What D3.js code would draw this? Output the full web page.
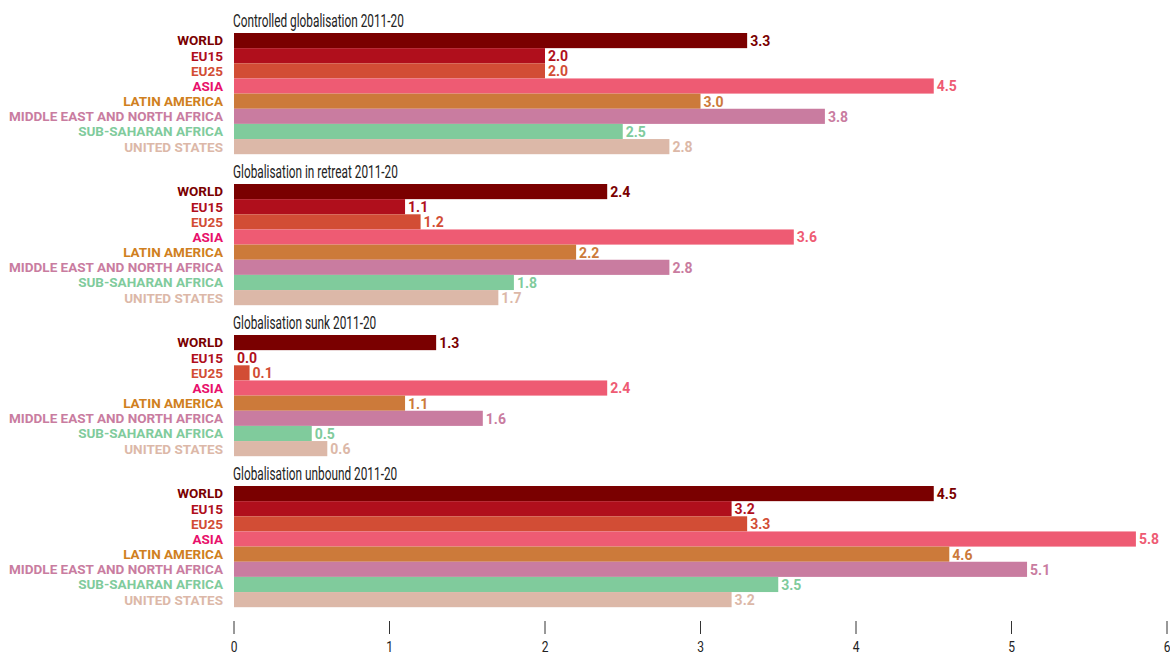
<!DOCTYPE html>
<html>
<head>
<meta charset="utf-8">
<script src="https://cdn.jsdelivr.net/npm/d3@7"></script>
<style>
body { margin: 0; background: #fff; }
text { font-family: "Roboto", "DejaVu Sans", sans-serif; }
</style>
</head>
<body>
<svg></svg>
<script>
var width = 1170;
var height = 654;

var regions = ["WORLD", "EU15", "EU25", "ASIA", "LATIN AMERICA", "MIDDLE EAST AND NORTH AFRICA", "SUB-SAHARAN AFRICA", "UNITED STATES"];
var scenarios = ["Controlled globalisation 2011-20", "Globalisation in retreat 2011-20", "Globalisation sunk 2011-20", "Globalisation unbound 2011-20"];
var controlled = [3.3, 2.0, 2.0, 4.5, 3.0, 3.8, 2.5, 2.8];
var retreat = [2.4, 1.1, 1.2, 3.6, 2.2, 2.8, 1.8, 1.7];
var sunk = [1.3, 0.0, 0.1, 2.4, 1.1, 1.6, 0.5, 0.6];
var unbound = [4.5, 3.2, 3.3, 5.8, 4.6, 5.1, 3.5, 3.2];
var ticks = [0, 1, 2, 3, 4, 5, 6];

var barColors = ["#7a0000", "#b00f1c", "#d24d35", "#ee5b73", "#cc7a3a", "#c97ca0", "#80cb9c", "#dcb8a8"];
var labelColors = ["#7a0000", "#b00f1c", "#d24d35", "#e8106b", "#d07f20", "#c97ca0", "#80cb9c", "#dcb8a8"];

var groups = [controlled, retreat, sunk, unbound];

var svg = d3.select('svg')
    .attr('width', width)
    .attr('height', height);

var x = d3.scaleLinear()
    .domain([0, 6])
    .range([234, 1167]);

// each block: title + 8 bars
var groupY = d3.scaleBand()
    .domain(scenarios)
    .range([12, 616])
    .paddingInner(0);

var rowY = d3.scaleBand()
    .domain(regions)
    .range([21, 142.2])
    .padding(0);

// narrow the text a bit, the original face is condensed
var squeeze = function (sel, target) {
    var probe = svg.append('text')
        .attr('font-size', sel.size)
        .attr('font-weight', sel.weight)
        .text(sel.text);
    var w = probe.node().getComputedTextLength();
    probe.remove();
    return Math.min(1, target / w);
};

var kLabel = squeeze({ size: 13.5, weight: 'bold', text: 'MIDDLE EAST AND NORTH AFRICA' }, 215);
var kTitle = squeeze({ size: 17.5, weight: 'normal', text: 'Controlled globalisation 2011-20' }, 171);
var kValue = squeeze({ size: 14, weight: 'bold', text: '3.3' }, 21);
var kTick = 0.8;

var g = svg.selectAll('g.scenario')
    .data(groups)
    .enter()
    .append('g')
    .attr('class', 'scenario')
    .attr('transform', function (d, i) { return 'translate(0,' + groupY(scenarios[i]) + ')'; });

g.append('text')
    .attr('transform', 'translate(233,15) scale(' + kTitle + ',1)')
    .attr('font-size', 17.5)
    .attr('fill', '#222')
    .text(function (d, i) { return scenarios[i]; });

g.selectAll('rect')
    .data(function (d) { return d; })
    .enter()
    .append('rect')
    .attr('x', x(0))
    .attr('y', function (d, i) { return rowY(regions[i]); })
    .attr('width', function (d) { return x(d) - x(0); })
    .attr('height', rowY.bandwidth())
    .attr('fill', function (d, i) { return barColors[i]; });

g.selectAll('text.region')
    .data(regions)
    .enter()
    .append('text')
    .attr('class', 'region')
    .attr('transform', function (d) {
        return 'translate(223,' + (rowY(d) + rowY.bandwidth() / 2) + ') scale(' + kLabel + ',1)';
    })
    .attr('dy', '0.36em')
    .attr('text-anchor', 'end')
    .attr('font-size', 13.5)
    .attr('font-weight', 'bold')
    .attr('fill', function (d, i) { return labelColors[i]; })
    .text(function (d) { return d; });

g.selectAll('text.value')
    .data(function (d) { return d; })
    .enter()
    .append('text')
    .attr('class', 'value')
    .attr('transform', function (d, i) {
        return 'translate(' + (x(d) + 3) + ',' + (rowY(regions[i]) + rowY.bandwidth() / 2) + ') scale(' + kValue + ',1)';
    })
    .attr('dy', '0.38em')
    .attr('font-size', 14)
    .attr('font-weight', 'bold')
    .attr('fill', function (d, i) { return barColors[i]; })
    .text(function (d) { return d.toFixed(1); });

// axis
var axis = svg.append('g')
    .attr('transform', 'translate(0,621)');

axis.selectAll('line')
    .data(ticks)
    .enter()
    .append('line')
    .attr('x1', function (d) { return x(d); })
    .attr('x2', function (d) { return x(d); })
    .attr('y1', 0)
    .attr('y2', 13)
    .attr('stroke', '#333')
    .attr('stroke-width', 1);

axis.selectAll('text')
    .data(ticks)
    .enter()
    .append('text')
    .attr('transform', function (d) { return 'translate(' + x(d) + ',30.5) scale(' + kTick + ',1)'; })
    .attr('text-anchor', 'middle')
    .attr('font-size', 15)
    .attr('fill', '#222')
    .text(function (d) { return d; });
</script>
</body>
</html>
